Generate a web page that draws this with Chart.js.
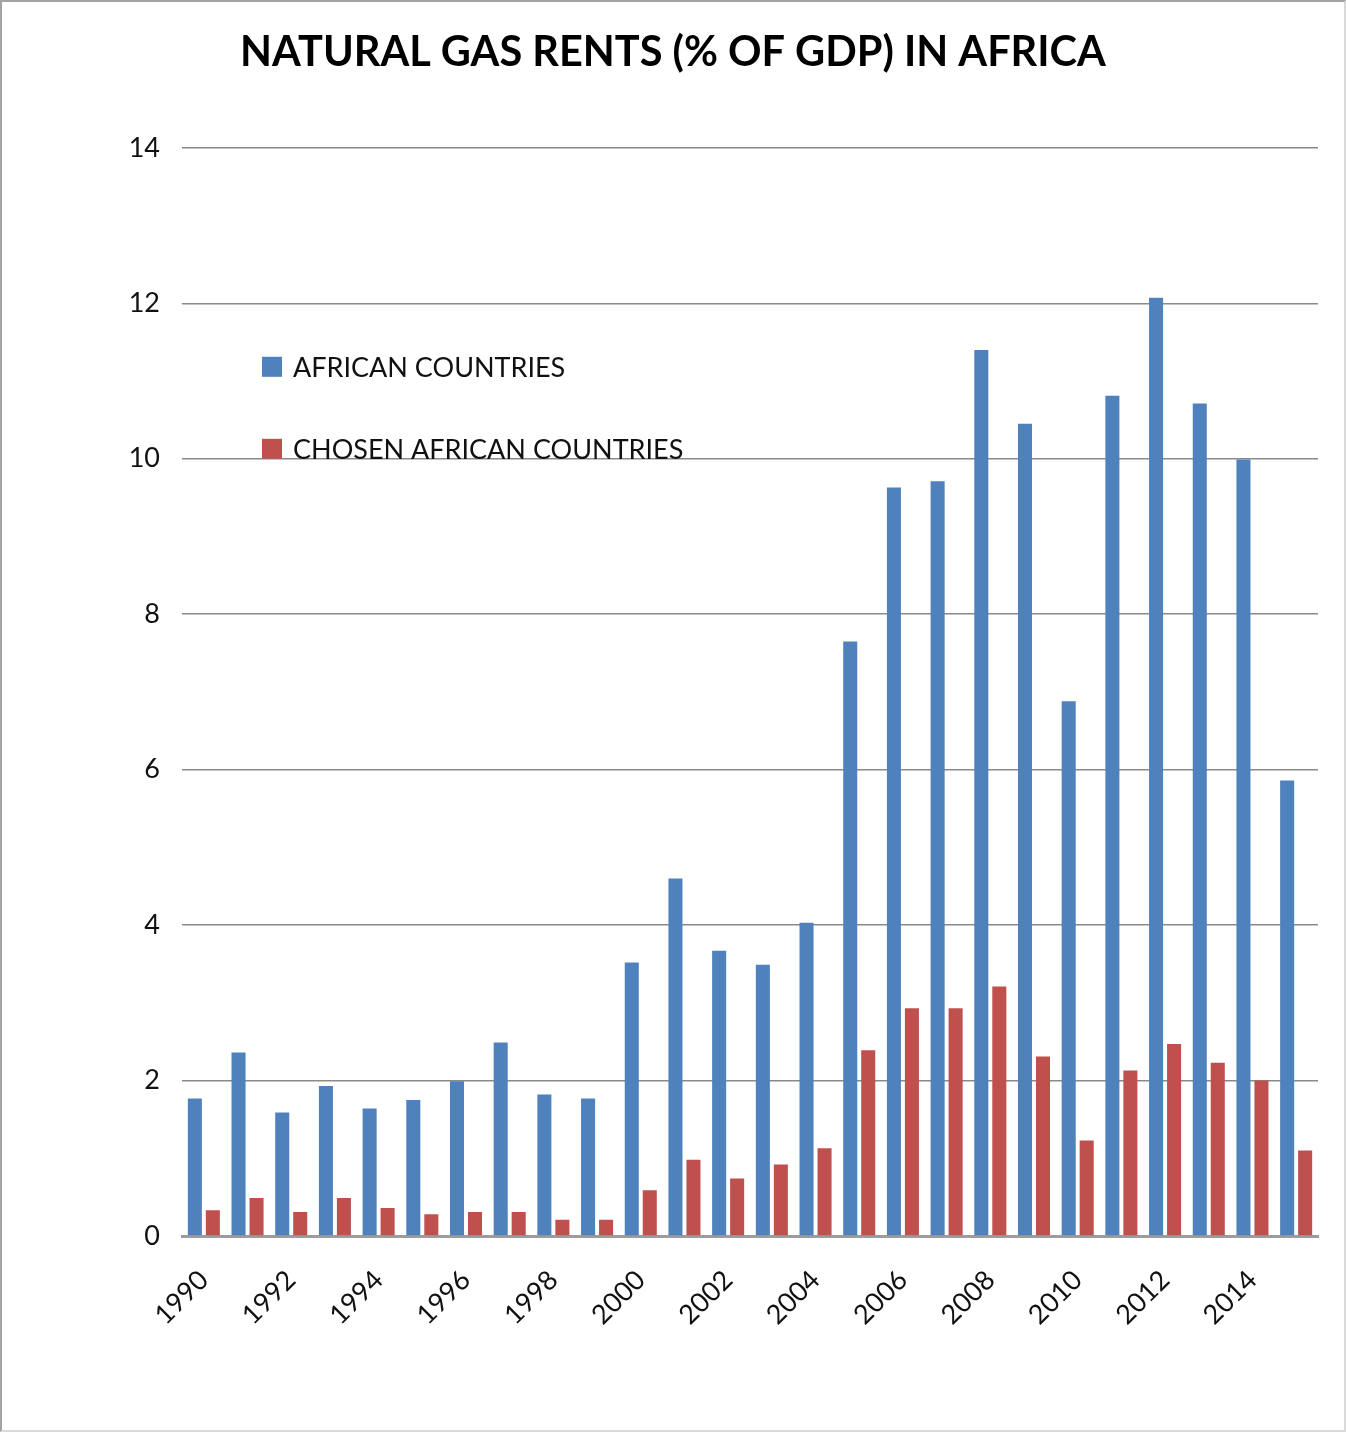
<!DOCTYPE html>
<html>
<head>
<meta charset="utf-8">
<title>Natural gas rents in Africa</title>
<script src="https://cdn.jsdelivr.net/npm/chart.js@4.4.1/dist/chart.umd.min.js"></script>
<style>
  html, body { margin: 0; padding: 0; background: #fff; }
  #frame {
    box-sizing: border-box;
    width: 1346px;
    height: 1432px;
    border-left: 2px solid #a3a3a3;
    border-top: 2px solid #a3a3a3;
    border-right: 2px solid #dadada;
    border-bottom: 2px solid #dadada;
  }
  canvas { display: block; }
</style>
</head>
<body>
<div id="frame"><canvas id="chart" width="1342" height="1428"></canvas></div>
<script>
const years = [
  '1990', '1991', '1992', '1993', '1994', '1995', '1996', '1997', '1998', '1999',
  '2000', '2001', '2002', '2003', '2004', '2005', '2006', '2007', '2008', '2009',
  '2010', '2011', '2012', '2013', '2014', '2015'
];
const africanCountries = [
  1.77, 2.36, 1.59, 1.93, 1.64, 1.75, 1.99, 2.49, 1.82, 1.77,
  3.52, 4.60, 3.67, 3.49, 4.03, 7.65, 9.63, 9.71, 11.40, 10.45,
  6.88, 10.81, 12.07, 10.71, 9.99, 5.86
];
const chosenCountries = [
  0.33, 0.49, 0.31, 0.49, 0.36, 0.28, 0.31, 0.31, 0.21, 0.21,
  0.59, 0.98, 0.74, 0.92, 1.13, 2.39, 2.93, 2.93, 3.21, 2.31,
  1.23, 2.13, 2.47, 2.23, 2.00, 1.10
];
const seriesNames = ['AFRICAN COUNTRIES', 'CHOSEN AFRICAN COUNTRIES'];
const seriesColors = ['#4f81bd', '#c0504d'];
const yTicks = [0, 2, 4, 6, 8, 10, 12, 14];

const FONT = 'Lato, "Open Sans", sans-serif';

// legend sits inside the plot, stacked with wide spacing
const innerLegend = {
  id: 'innerLegend',
  afterDraw(chart) {
    const { ctx, chartArea } = chart;
    const x = chartArea.left + 80;
    let y = chartArea.top + 219;
    ctx.save();
    ctx.font = '27px ' + FONT;
    ctx.textBaseline = 'middle';
    chart.data.datasets.forEach(ds => {
      ctx.fillStyle = ds.backgroundColor;
      ctx.fillRect(x, y - 10, 20, 20);
      ctx.fillStyle = '#111';
      ctx.fillText(ds.label, x + 31, y + 1);
      y += 82;
    });
    ctx.restore();
  }
};

new Chart(document.getElementById('chart'), {
  type: 'bar',
  data: {
    labels: years,
    datasets: [
      { label: seriesNames[0], data: africanCountries, backgroundColor: seriesColors[0] },
      { label: seriesNames[1], data: chosenCountries, backgroundColor: seriesColors[1] }
    ]
  },
  options: {
    responsive: false,
    animation: false,
    // equal side padding keeps the title centred on the canvas
    layout: { padding: { left: 26, right: 26, top: 0, bottom: 0 } },
    datasets: {
      bar: { categoryPercentage: 0.824, barPercentage: 0.78 }
    },
    plugins: {
      legend: { display: false },
      tooltip: { enabled: false },
      title: {
        display: true,
        text: 'NATURAL GAS RENTS (% OF GDP) IN AFRICA',
        color: '#000',
        font: { family: FONT, size: 41.5, weight: 'bold', lineHeight: 1.2 },
        padding: { top: 26, bottom: 70 }
      }
    },
    scales: {
      x: {
        grid: { display: false },
        border: { display: true, color: '#9c9c9c', width: 3 },
        ticks: {
          autoSkip: false,
          minRotation: 45,
          maxRotation: 45,
          padding: 20,
          color: '#111',
          font: { family: FONT, size: 27 },
          callback: (v, i) => (i % 2 === 0 ? years[i] : '')
        },
        afterFit: s => { s.height = 194; }
      },
      y: {
        min: 0,
        max: 14,
        afterBuildTicks: s => { s.ticks = yTicks.map(v => ({ value: v })); },
        grid: { color: '#8a8a8a', lineWidth: 1.5, drawTicks: false },
        border: { display: false },
        ticks: {
          padding: 22,
          color: '#111',
          font: { family: FONT, size: 27 }
        },
        afterFit: s => { s.width = 154; }
      }
    }
  },
  plugins: [innerLegend]
});
</script>
</body>
</html>
